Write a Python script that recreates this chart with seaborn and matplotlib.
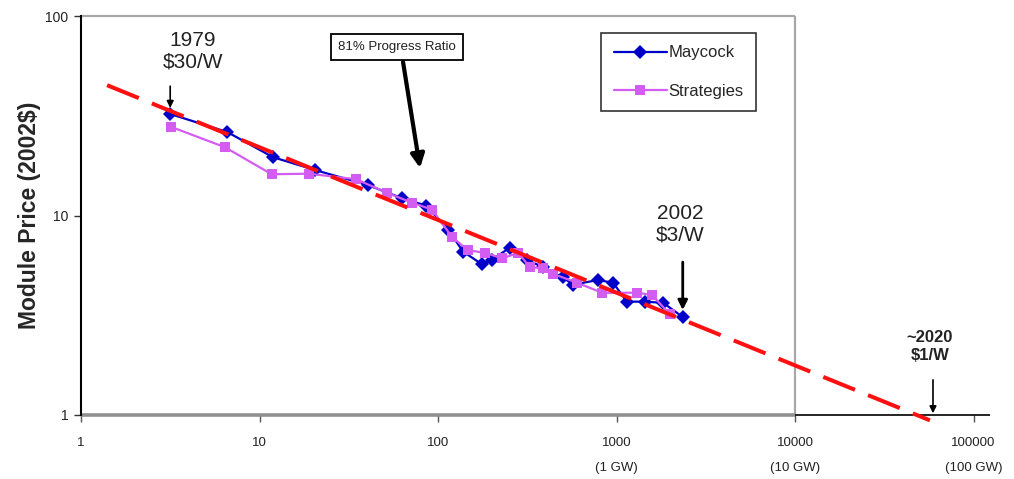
import numpy as np
import pandas as pd
import matplotlib
matplotlib.use("Agg")
import matplotlib.pyplot as plt
import seaborn as sns

# Cumulative production (MW) and module price (2002$/W)
maycock_x = [3.15, 6.6, 11.9, 20.5, 40.5, 63, 86, 114, 138, 176, 200, 253, 315, 388, 500,
             571, 788, 957, 1144, 1443, 1823, 2350]
maycock_y = [32.3, 26.2, 19.6, 16.9, 14.2, 12.2, 11.2, 8.5, 6.6, 5.7, 6.0, 6.9, 6.0, 5.5, 4.9,
             4.5, 4.75, 4.6, 3.7, 3.7, 3.65, 3.1]
strategies_x = [3.2, 6.4, 11.7, 18.9, 34.7, 51.8, 71.5, 92.5, 120, 147, 183, 229, 282, 327,
                388, 441, 602, 830, 1300, 1580, 1990]
strategies_y = [27.8, 22.0, 16.1, 16.2, 15.2, 13.0, 11.6, 10.7, 7.8, 6.7, 6.5, 6.1, 6.5, 5.5,
                5.45, 5.1, 4.6, 4.1, 4.1, 4.0, 3.2]
# 81% progress-ratio trend line (endpoints)
trend_x = [1.4, 57000]
trend_y = [45, 0.94]

x_ticks = [1, 10, 100, 1000, 10000, 100000]
x_ticklabels = ["1", "10", "100", "1000\n(1 GW)", "10000\n(10 GW)", "100000\n(100 GW)"]
y_ticks = [1, 10, 100]
y_ticklabels = ["1", "10", "100"]

df = pd.concat([
    pd.DataFrame({"cap": maycock_x, "price": maycock_y, "series": "Maycock"}),
    pd.DataFrame({"cap": strategies_x, "price": strategies_y, "series": "Strategies"}),
])

sns.set_style("white")
plt.rcParams["font.family"] = ["Liberation Sans", "DejaVu Sans"]

fig = plt.figure(figsize=(10.14, 4.79), dpi=100)
ax = fig.add_axes([81/1014, 64/479, 909/1014, 399/479])

blue = "#0000C8"
magenta = "#D35CF2"
sns.lineplot(data=df, x="cap", y="price", hue="series", style="series",
             markers={"Maycock": "D", "Strategies": "s"}, dashes=False,
             palette={"Maycock": blue, "Strategies": magenta},
             markersize=6.8, markeredgewidth=0, linewidth=1.6, ax=ax, zorder=3)

ax.plot(trend_x, trend_y, color="#FF1010", lw=2.9, dashes=(8.5, 3.5), zorder=4, clip_on=False)

ax.set_xscale("log")
ax.set_yscale("log")
ax.set_xlim(1, 10 ** (909 / 178.5))
ax.set_ylim(1, 100)

for s in ["top", "right", "bottom"]:
    ax.spines[s].set_visible(False)
ax.spines["left"].set_color("black")
ax.spines["left"].set_linewidth(1.5)
frame_gray = "#A8A8A8"
ax.hlines(100, 1, 1e4, color=frame_gray, lw=1.6, clip_on=False, zorder=1)
ax.vlines(1e4, 1, 100, color=frame_gray, lw=1.6, clip_on=False, zorder=1)
ax.hlines(1, 1, 1e4, color="#909090", lw=2.6, clip_on=False, zorder=2)
ax.hlines(1, 1e4, 10 ** (909 / 178.5), color="black", lw=1.2, clip_on=False, zorder=2)

ax.set_xticks(x_ticks)
ax.set_xticklabels(x_ticklabels, fontsize=9.5, color="#222222")
for lab in ax.get_xticklabels():
    lab.set_linespacing(2.4)
    lab.set_verticalalignment("top")
ax.set_yticks(y_ticks)
ax.set_yticklabels(y_ticklabels, fontsize=10, color="#222222")
ax.minorticks_off()
ax.tick_params(axis="x", direction="out", length=5, width=1, color="#555555", pad=11, bottom=True)
ax.tick_params(axis="y", direction="out", length=5, width=1, color="#333333", pad=4, left=True)

ax.set_xlabel("")
ax.set_ylabel("Module Price (2002$)", fontsize=16.5, fontweight="bold", labelpad=3)

# annotations
ax.text(4.24, 66.8, "1979\n$30/W", ha="center", va="center", fontsize=15, color="#222222",
        linespacing=1.15)
ax.annotate("", xy=(3.16, 34.6), xytext=(3.16, 44.5),
            arrowprops=dict(arrowstyle="-|>", color="black", lw=1.2, mutation_scale=10,
                            shrinkA=0, shrinkB=0))
ax.text(2268, 9.06, "2002\n$3/W", ha="center", va="center", fontsize=15, color="#222222",
        linespacing=1.15)
ax.annotate("", xy=(2350, 3.36), xytext=(2350, 5.84),
            arrowprops=dict(arrowstyle="-|>", color="black", lw=2, mutation_scale=14,
                            shrinkA=0, shrinkB=0))
ax.text(57000, 2.2, "~2020\n$1/W", ha="center", va="center", fontsize=12,
        fontweight="bold", color="#222222", linespacing=1.3)
ax.annotate("", xy=(59300, 1.02), xytext=(59300, 1.50),
            arrowprops=dict(arrowstyle="-|>", color="black", lw=1.2, mutation_scale=10,
                            shrinkA=0, shrinkB=0), annotation_clip=False)
ax.text(58.9, 69.9, "81% Progress Ratio", ha="center", va="center", fontsize=9.5,
        color="#222222",
        bbox=dict(boxstyle="square,pad=0.55", fc="white", ec="black", lw=1.3))
ax.annotate("", xy=(79.3, 17.3), xytext=(63.7, 58.8),
            arrowprops=dict(arrowstyle="-|>", color="black", lw=3, mutation_scale=20,
                            shrinkA=0, shrinkB=0))

handles, labels = ax.get_legend_handles_labels()
leg = ax.legend(handles, labels, loc="upper left",
                bbox_to_anchor=(601 / 1014, 1 - 33 / 479), bbox_transform=fig.transFigure,
                fontsize=12, frameon=True, fancybox=False, edgecolor="black",
                handlelength=3.2, handletextpad=0.1, labelspacing=1.4,
                borderpad=0.75, borderaxespad=0)
leg.get_frame().set_linewidth(1.2)

fig.savefig("out.png", dpi=100)
